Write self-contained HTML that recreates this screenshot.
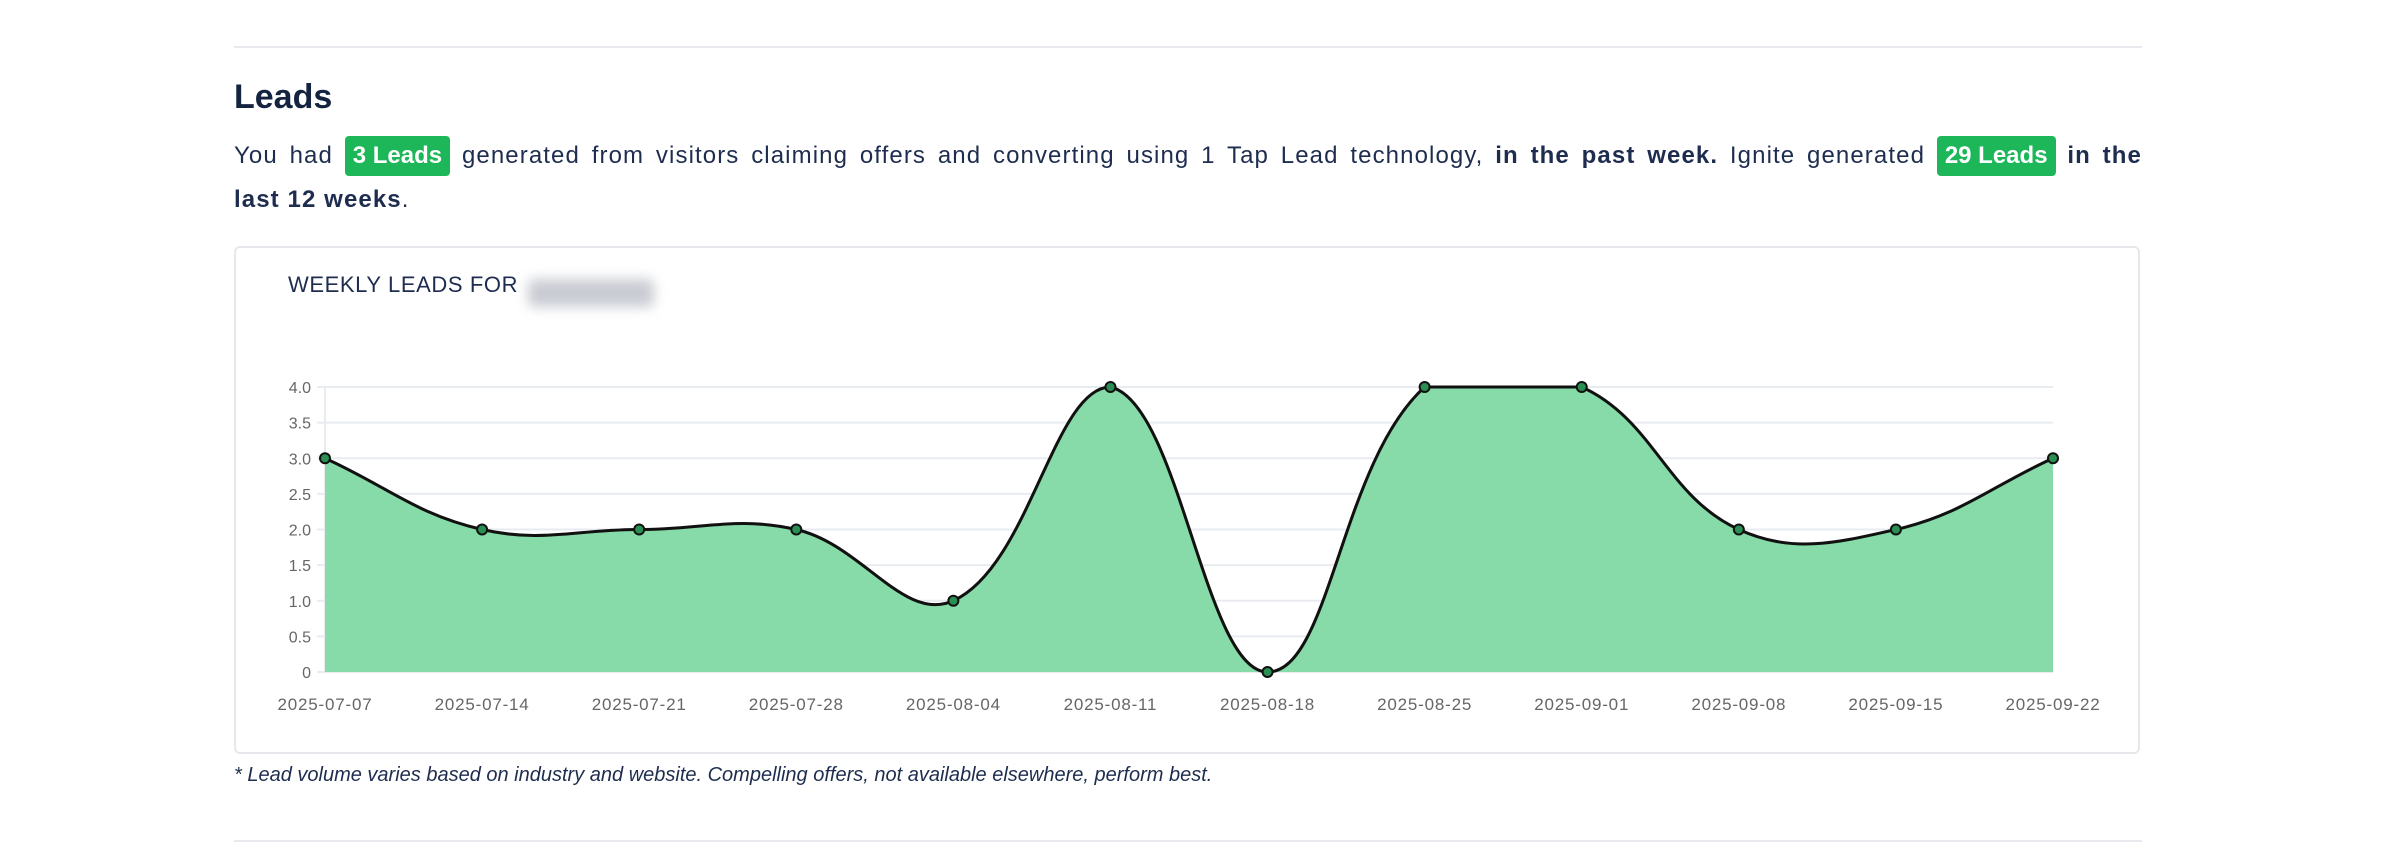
<!DOCTYPE html>
<html><head><meta charset="utf-8">
<style>
html,body{margin:0;padding:0;background:#fff;width:2400px;height:849px;overflow:hidden;font-family:"Liberation Sans",sans-serif;color:#1e2d4f}
.rule{position:absolute;left:234px;width:1908px;height:2px;background:#e8eaee}
h2{position:absolute;left:234px;top:78px;margin:0;font-size:34px;font-weight:bold;color:#14233f}
.p{position:absolute;left:234px;top:134px;width:1908px;font-size:24px;line-height:44px;color:#1e2d4f;letter-spacing:1.1px}
.l1{text-align:justify;text-align-last:justify;white-space:nowrap}
.b{display:inline-block;background:#1db75a;color:#fff;font-weight:bold;padding:0 8px;border-radius:4px;line-height:40px;letter-spacing:0}
.box{position:absolute;left:234px;top:246px;width:1906px;height:508px;border:2px solid #e6e8ec;border-radius:6px;box-sizing:border-box}
.t{position:absolute;left:288px;top:272px;font-size:22px;letter-spacing:0.6px;color:#1e2d4f}
.blur{position:absolute;left:528px;top:279px;width:126px;height:28px;background:#c9ccd3;filter:blur(6px);border-radius:6px}
.foot{position:absolute;left:234px;top:764px;font-size:20px;font-style:italic;color:#1e2d4f}
svg{position:absolute;left:0;top:0}
</style></head><body>
<div class="rule" style="top:46px"></div>
<h2>Leads</h2>
<div class="p">
<div class="l1">You had <span class="b">3 Leads</span> generated from visitors claiming offers and converting using 1 Tap Lead technology, <b>in the past week.</b> Ignite generated <span class="b">29 Leads</span> <b>in the</b></div>
<div><b>last 12 weeks</b>.</div>
</div>
<div class="box"></div>
<div class="t">WEEKLY LEADS FOR</div>
<div class="blur"></div>
<svg id="s" width="2400" height="849" xmlns="http://www.w3.org/2000/svg"></svg>
<div class="foot">* Lead volume varies based on industry and website. Compelling offers, not available elsewhere, perform best.</div>
<div class="rule" style="top:840px"></div>
<script>
var data=[3,2,2,2,1,4,0,4,4,2,2,3];
var labels=["2025-07-07","2025-07-14","2025-07-21","2025-07-28","2025-08-04","2025-08-11","2025-08-18","2025-08-25","2025-09-01","2025-09-08","2025-09-15","2025-09-22"];
var x0=325,x1=2053,y0=672,yt=387,step=(x1-x0)/11,u=(y0-yt)/4;
var P=data.map(function(v,i){return {x:x0+i*step,y:y0-v*u};});
var s='';
for(var k=0;k<=8;k++){var y=y0-k*u/2;s+='<line x1="'+(x0-8)+'" x2="'+x1+'" y1="'+y+'" y2="'+y+'" stroke="#e8ebf0" stroke-width="2"/>';
s+='<text x="'+(x0-14)+'" y="'+(y+6)+'" font-size="16" fill="#666" text-anchor="end" font-family="Liberation Sans">'+(k==0?'0':(k/2).toFixed(1))+'</text>';}
s+='<line x1="'+x0+'" x2="'+x0+'" y1="'+yt+'" y2="'+y0+'" stroke="#e8ebf0" stroke-width="2"/>';
function dist(a,b){return Math.hypot(a.x-b.x,a.y-b.y);}
var cp=[];var t=0.4;
for(var i=0;i<P.length;i++){var pr=P[i-1]||P[i],cu=P[i],nx=P[i+1]||P[i];
var d01=dist(pr,cu),d12=dist(cu,nx);var s01=d01/(d01+d12)||0,s12=d12/(d01+d12)||0;
var fa=t*s01,fb=t*s12;
var c={px:cu.x-fa*(nx.x-pr.x),py:cu.y-fa*(nx.y-pr.y),nx:cu.x+fb*(nx.x-pr.x),ny:cu.y+fb*(nx.y-pr.y)};
c.py=Math.max(yt,Math.min(y0,c.py));c.ny=Math.max(yt,Math.min(y0,c.ny));cp.push(c);}
var d='M'+P[0].x+','+P[0].y;
for(var i=1;i<P.length;i++){d+=' C'+cp[i-1].nx+','+cp[i-1].ny+' '+cp[i].px+','+cp[i].py+' '+P[i].x+','+P[i].y;}
s+='<path d="'+d+' L'+x1+','+y0+' L'+x0+','+y0+'Z" fill="#87dba8"/>';
s+='<path d="'+d+'" fill="none" stroke="#111" stroke-width="3"/>';
P.forEach(function(p,i){s+='<circle cx="'+p.x+'" cy="'+p.y+'" r="5" fill="#2a8f52" stroke="#111" stroke-width="2"/>';
s+='<text x="'+p.x+'" y="710" font-size="17" letter-spacing="0.8" fill="#666" text-anchor="middle" font-family="Liberation Sans">'+labels[i]+'</text>';});
document.getElementById('s').innerHTML=s;
</script>
</body></html>
